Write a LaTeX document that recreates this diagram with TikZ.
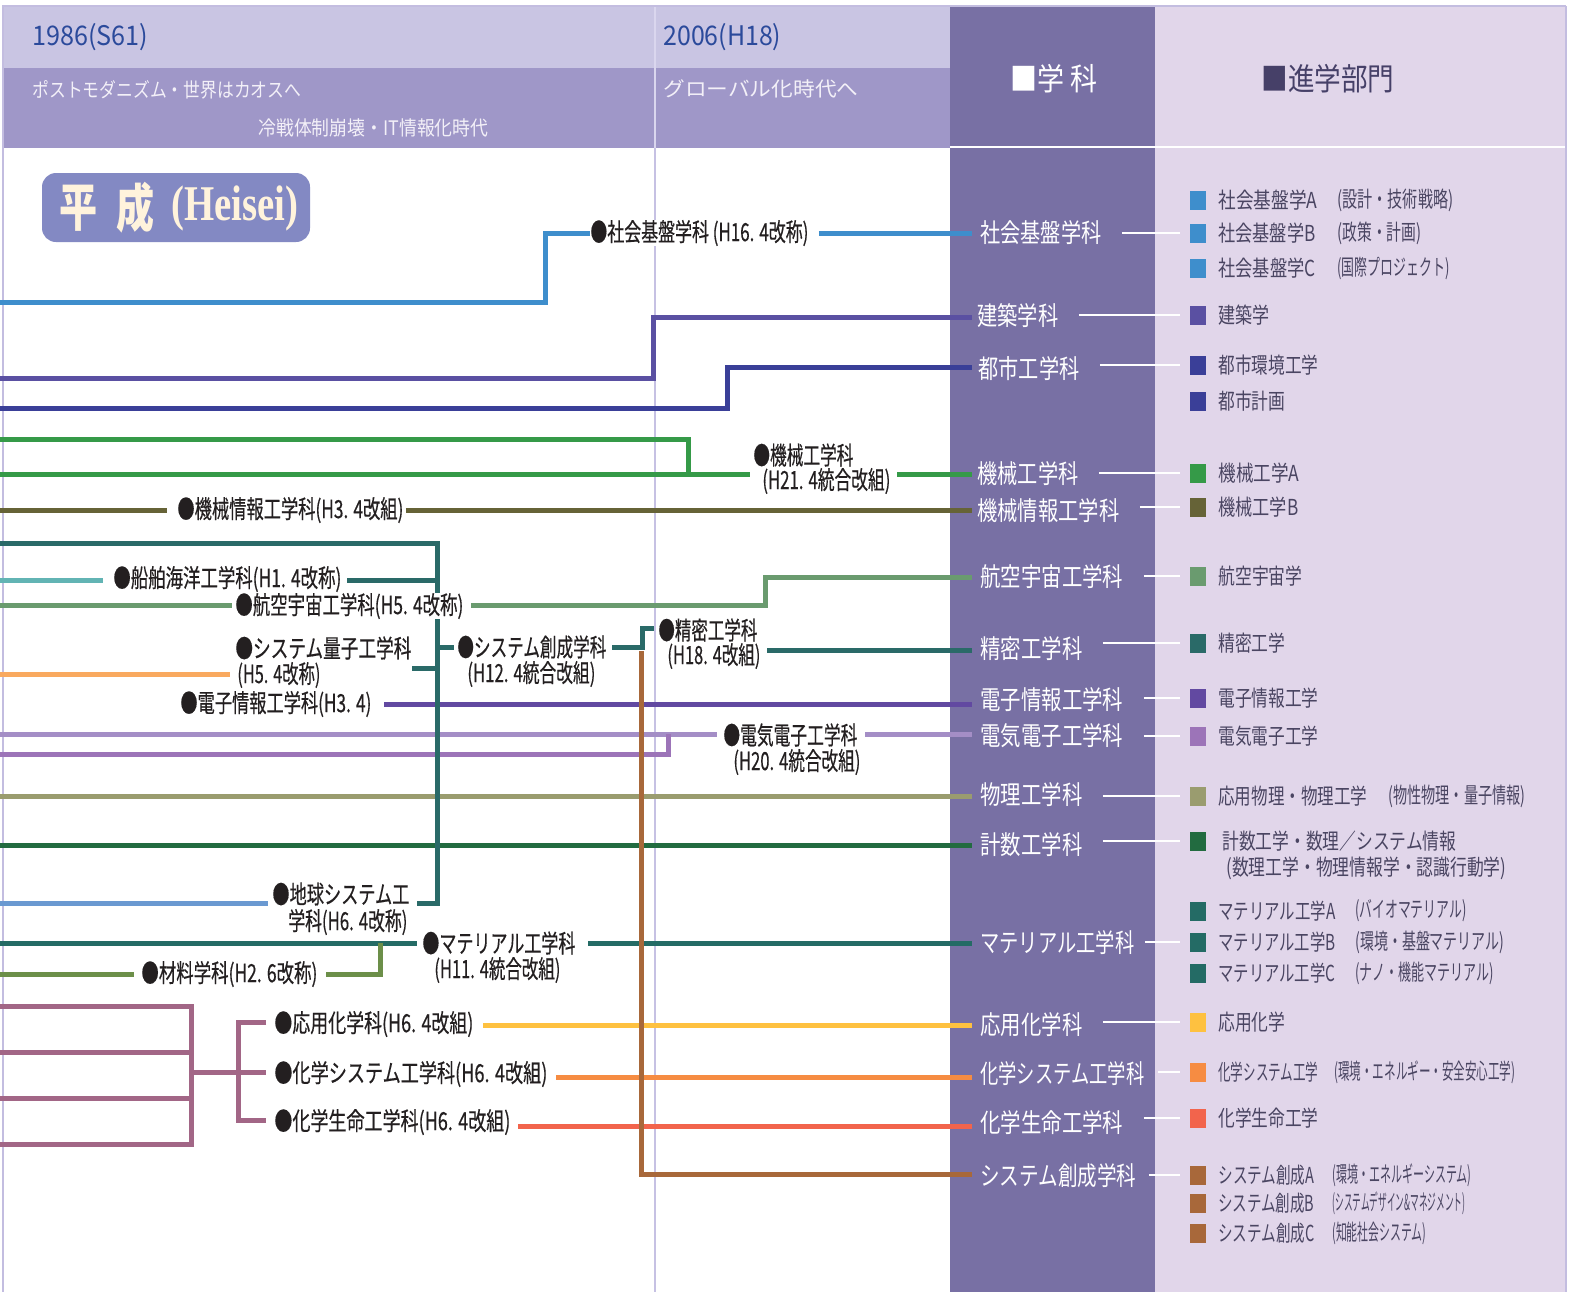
\documentclass[tikz,border=0pt]{standalone}
\usepackage{fontspec}
\setmainfont{Noto Sans CJK JP}
\newfontfamily\jpb[FakeBold=0.5]{Noto Sans CJK JP}
\newfontfamily\serifH{Liberation Serif}
\usepackage{graphicx}
\pgfdeclarelayer{back}
\pgfdeclarelayer{lines}
\pgfsetlayers{back,lines,main}
\newlength\pxu
\setlength\pxu{0.5pt}
\newcommand\fw[2]{\resizebox{#1\pxu}{\height}{#2}}
\definecolor{band1}{HTML}{C9C5E3}
\definecolor{band2}{HTML}{9F97C8}
\definecolor{colG}{HTML}{7870A4}
\definecolor{colS}{HTML}{E1D6EA}
\definecolor{divc}{HTML}{C6C1E3}
\definecolor{divh}{HTML}{DAD6EE}
\definecolor{bordc}{HTML}{C3BDE0}
\definecolor{heiseibg}{HTML}{8389C3}
\definecolor{heiseitxt}{HTML}{FFF3DC}
\definecolor{yearblue}{HTML}{2B4A9B}
\definecolor{eratxt}{HTML}{F3F0F8}
\definecolor{labk}{HTML}{231F20}
\definecolor{itk}{HTML}{4A4562}
\definecolor{hdk}{HTML}{464068}
\definecolor{cShakai}{HTML}{3E8ECC}
\definecolor{cKenchiku}{HTML}{5A50A2}
\definecolor{cToshi}{HTML}{3A3F98}
\definecolor{cKikai}{HTML}{359A48}
\definecolor{cKJ}{HTML}{666337}
\definecolor{cTeal}{HTML}{2A6A68}
\definecolor{cSenpaku}{HTML}{62B4B4}
\definecolor{cKoku}{HTML}{6A9B6F}
\definecolor{cRyoshi}{HTML}{F9A95F}
\definecolor{cDenshi}{HTML}{6249A1}
\definecolor{cDenkiU}{HTML}{A48EC6}
\definecolor{cDenkiL}{HTML}{9C74B8}
\definecolor{cButsuri}{HTML}{9A9C6F}
\definecolor{cKeisu}{HTML}{226B40}
\definecolor{cChikyu}{HTML}{6A99D1}
\definecolor{cMat}{HTML}{246B65}
\definecolor{cZairyo}{HTML}{6C8F49}
\definecolor{cChem}{HTML}{A26686}
\definecolor{cOyo}{HTML}{FEC140}
\definecolor{cKasys}{HTML}{F68C42}
\definecolor{cKasei}{HTML}{F2644C}
\definecolor{cSousei}{HTML}{A8683A}
\begin{document}
\begin{tikzpicture}[x=0.5pt,y=-0.5pt,
  lnc/.style={line width=2.5pt, draw=#1},
  wl/.style={line width=1pt, draw=white},
  ll/.style={anchor=west, inner sep=0pt, text=labk, fill=white, font=\jpb\fontsize{12.5}{15}\selectfont},
  dl/.style={anchor=west, inner sep=0pt, text=white, font=\fontsize{13}{15}\selectfont},
  itm/.style={anchor=west, inner sep=0pt, text=itk, font=\fontsize{11}{13}\selectfont},
  sqr/.style={fill=#1, inner sep=0pt, minimum width=8pt, minimum height=9.5pt},
  hd/.style={anchor=west, inner sep=0pt}
]
\useasboundingbox (0,0) rectangle (1572,1292);
\begin{pgfonlayer}{back}
\fill[white] (0,0) rectangle (1572,1292);
\fill[band1] (3,6) rectangle (950,68);
\fill[band2] (3,68) rectangle (950,148);
\fill[colG] (950,6) rectangle (1155,1292);
\fill[colS] (1155,6) rectangle (1566,1292);
\draw[white, line width=0.75pt] (950,147) -- (1566,147);
\draw[divc, line width=1pt] (655,148) -- (655,1292);
\draw[divh, line width=1pt] (655,6) -- (655,148);
\draw[bordc, line width=1pt] (2.5,6) -- (2.5,1292);
\draw[bordc, line width=0.75pt] (2,6) -- (1566,6);
\draw[bordc, line width=0.75pt] (1566,6) -- (1566,1292);
\end{pgfonlayer}

% header texts
\node[hd, text=yearblue, font=\fontsize{13.5}{15}\selectfont] (yr1) at (32,37) {\fw{116}{1986(S61)}};
\node[hd, text=yearblue, font=\fontsize{13.5}{15}\selectfont] (yr2) at (663,37) {\fw{118}{2006(H18)}};
\node[hd, text=eratxt, font=\fontsize{10}{12}\selectfont] (era1) at (32,90) {\fw{269}{ポストモダニズム・世界はカオスへ}};
\node[hd, text=eratxt, font=\fontsize{10}{12}\selectfont] (era2) at (258,128) {\fw{230}{冷戦体制崩壊・IT情報化時代}};
\node[hd, text=eratxt, font=\fontsize{10}{12}\selectfont] (era3) at (663,89) {\fw{195}{グローバル化時代へ}};
\node[hd, text=white, font=\fontsize{15.5}{17}\selectfont] (hGakka) at (1010,79) {\fw{87}{■学 科}};
\node[hd, text=hdk, font=\fontsize{15.5}{17}\selectfont] (hShingaku) at (1261,79) {\fw{133}{■進学部門}};

% Heisei badge
\node[fill=heiseibg, rounded corners=7pt, minimum width=134pt, minimum height=34.5pt, inner sep=0pt] (heiseiBox) at (176,207.5) {};
\node[hd, text=heiseitxt, font=\fontsize{26}{28}\selectfont\bfseries] (heiseiA) at (59,208) {\fw{38}{平}};
\node[hd, text=heiseitxt, font=\fontsize{26}{28}\selectfont\bfseries] (heiseiB) at (116,208) {\fw{38}{成}};
\node[hd, text=heiseitxt, font=\serifH\fontsize{25}{27}\selectfont\bfseries] (heiseiC) at (171,208) {\fw{127}{(Heisei)}};

% left labels
\node[ll] (shakaiL) at (590,233) {\fw{218}{●社会基盤学科 (H16. 4改称)}};
\node[ll] (kjL) at (177,510) {\fw{226}{●機械情報工学科(H3. 4改組)}};
\node[ll] (senpakuL) at (113,579) {\fw{228}{●船舶海洋工学科(H1. 4改称)}};
\node[ll] (kokuL) at (235,606) {\fw{228}{●航空宇宙工学科(H5. 4改称)}};
\node[ll] (ryoshiL1) at (235,648) {\fw{176}{●システム量子工学科}};
\node[ll] (ryoshiL2) at (237,675) {\fw{83}{(H5. 4改称)}};
\node[ll] (denshiL) at (180,704) {\fw{191}{●電子情報工学科(H3. 4)}};
\node[ll] (souseiL1) at (457,647) {\fw{149}{●システム創成学科}};
\node[ll] (souseiL2) at (467,674) {\fw{128}{(H12. 4統合改組)}};
\node[ll] (seimitsuL1) at (658,630) {\fw{99}{●精密工学科}};
\node[ll] (seimitsuL2) at (667,656) {\fw{93}{(H18. 4改組)}};
\node[ll] (kikaiL1) at (753,455) {\fw{100}{●機械工学科}};
\node[ll] (kikaiL2) at (762,481) {\fw{128}{(H21. 4統合改組)}};
\node[ll] (denkiL1) at (723,735) {\fw{134}{●電気電子工学科}};
\node[ll] (denkiL2) at (733,762) {\fw{127}{(H20. 4統合改組)}};
\node[ll] (chikyuL1) at (272,894) {\fw{137}{●地球システム工}};
\node[ll] (chikyuL2) at (288,922) {\fw{119}{学科(H6. 4改称)}};
\node[ll] (matL1) at (422,943) {\fw{153}{●マテリアル工学科}};
\node[ll] (matL2) at (434,970) {\fw{126}{(H11. 4統合改組)}};
\node[ll] (zairyoL) at (141,974) {\fw{176}{●材料学科(H2. 6改称)}};
\node[ll] (oyoL) at (274,1024) {\fw{199}{●応用化学科(H6. 4改組)}};
\node[ll] (kasysL) at (274,1074) {\fw{273}{●化学システム工学科(H6. 4改組)}};
\node[ll] (kaseiL) at (274,1122) {\fw{236}{●化学生命工学科(H6. 4改組)}};

% department labels
\node[dl] (dShakai) at (980,233) {\fw{121}{社会基盤学科}};
\node[dl] (dKenchiku) at (977,316) {\fw{81}{建築学科}};
\node[dl] (dToshi) at (978,369) {\fw{101}{都市工学科}};
\node[dl] (dKikai) at (977,474) {\fw{101}{機械工学科}};
\node[dl] (dKJ) at (977,511) {\fw{142}{機械情報工学科}};
\node[dl] (dKoku) at (980,577) {\fw{143}{航空宇宙工学科}};
\node[dl] (dSeimitsu) at (980,649) {\fw{102}{精密工学科}};
\node[dl] (dDenshi) at (980,700) {\fw{143}{電子情報工学科}};
\node[dl] (dDenki) at (980,736) {\fw{143}{電気電子工学科}};
\node[dl] (dButsuri) at (980,795) {\fw{102}{物理工学科}};
\node[dl] (dKeisu) at (980,845) {\fw{102}{計数工学科}};
\node[dl] (dMat) at (980,943) {\fw{154}{マテリアル工学科}};
\node[dl] (dOyo) at (980,1025) {\fw{102}{応用化学科}};
\node[dl] (dKasys) at (980,1074) {\fw{164}{化学システム工学科}};
\node[dl] (dKasei) at (980,1123) {\fw{143}{化学生命工学科}};
\node[dl] (dSousei) at (980,1176) {\fw{156}{システム創成学科}};

% course items
\node[sqr=cShakai] (sqSA) at (1198,200) {};
\node[itm] (iSA) at (1218,200) {\fw{99}{社会基盤学A}};
\node[itm] (iSAp) at (1337,200) {\fw{116}{(設計・技術戦略)}};
\node[sqr=cShakai] (sqSB) at (1198,233) {};
\node[itm] (iSB) at (1218,233) {\fw{97}{社会基盤学B}};
\node[itm] (iSBp) at (1337,233) {\fw{84}{(政策・計画)}};
\node[sqr=cShakai] (sqSC) at (1198,268) {};
\node[itm] (iSC) at (1218,268) {\fw{97}{社会基盤学C}};
\node[itm] (iSCp) at (1337,268) {\fw{112}{(国際プロジェクト)}};
\node[sqr=cKenchiku] (sqKen) at (1198,315) {};
\node[itm] (iKen) at (1218,315) {\fw{51}{建築学}};
\node[sqr=cToshi] (sqTA) at (1198,365) {};
\node[itm] (iTA) at (1218,365) {\fw{100}{都市環境工学}};
\node[sqr=cToshi] (sqTB) at (1198,401) {};
\node[itm] (iTB) at (1218,401) {\fw{67}{都市計画}};
\node[sqr=cKikai] (sqKA) at (1198,473) {};
\node[itm] (iKA) at (1218,473) {\fw{81}{機械工学A}};
\node[sqr=cKJ] (sqKB) at (1198,507) {};
\node[itm] (iKB) at (1218,507) {\fw{80}{機械工学B}};
\node[sqr=cKoku] (sqKo) at (1198,576) {};
\node[itm] (iKo) at (1218,576) {\fw{84}{航空宇宙学}};
\node[sqr=cTeal] (sqSe) at (1198,643) {};
\node[itm] (iSe) at (1218,643) {\fw{67}{精密工学}};
\node[sqr=cDenshi] (sqDj) at (1198,698) {};
\node[itm] (iDj) at (1218,698) {\fw{100}{電子情報工学}};
\node[sqr=cDenkiL] (sqDk) at (1198,736) {};
\node[itm] (iDk) at (1218,736) {\fw{100}{電気電子工学}};
\node[sqr=cButsuri] (sqBu) at (1198,796) {};
\node[itm] (iBu) at (1218,796) {\fw{149}{応用物理・物理工学}};
\node[itm] (iBup) at (1388,796) {\fw{137}{(物性物理・量子情報)}};
\node[sqr=cKeisu] (sqKe) at (1198,841) {};
\node[itm] (iKe) at (1222,841) {\fw{234}{計数工学・数理／システム情報}};
\node[itm] (iKep) at (1226,868) {\fw{280}{(数理工学・物理情報学・認識行動学)}};
\node[sqr=cMat] (sqMA) at (1198,911) {};
\node[itm] (iMA) at (1218,911) {\fw{117}{マテリアル工学A}};
\node[itm] (iMAp) at (1355,911) {\fw{111}{(バイオマテリアル)}};
\node[sqr=cMat] (sqMB) at (1198,942) {};
\node[itm] (iMB) at (1218,942) {\fw{117}{マテリアル工学B}};
\node[itm] (iMBp) at (1355,942) {\fw{149}{(環境・基盤マテリアル)}};
\node[sqr=cMat] (sqMC) at (1198,973) {};
\node[itm] (iMC) at (1218,973) {\fw{117}{マテリアル工学C}};
\node[itm] (iMCp) at (1355,973) {\fw{138}{(ナノ・機能マテリアル)}};
\node[sqr=cOyo] (sqOy) at (1198,1022) {};
\node[itm] (iOy) at (1218,1022) {\fw{67}{応用化学}};
\node[sqr=cKasys] (sqKs) at (1198,1072) {};
\node[itm] (iKs) at (1218,1072) {\fw{100}{化学システム工学}};
\node[itm] (iKsp) at (1334,1072) {\fw{181}{(環境・エネルギー・安全安心工学)}};
\node[sqr=cKasei] (sqKl) at (1198,1118) {};
\node[itm] (iKl) at (1218,1118) {\fw{100}{化学生命工学}};
\node[sqr=cSousei] (sqSoA) at (1198,1175) {};
\node[itm] (iSoA) at (1218,1175) {\fw{96}{システム創成A}};
\node[itm] (iSoAp) at (1332,1175) {\fw{139}{(環境・エネルギーシステム)}};
\node[sqr=cSousei] (sqSoB) at (1198,1203) {};
\node[itm] (iSoB) at (1218,1203) {\fw{96}{システム創成B}};
\node[itm] (iSoBp) at (1332,1203) {\fw{133}{(システムデザイン\&マネジメント)}};
\node[sqr=cSousei] (sqSoC) at (1198,1233) {};
\node[itm] (iSoC) at (1218,1233) {\fw{96}{システム創成C}};
\node[itm] (iSoCp) at (1332,1233) {\fw{94}{(知能社会システム)}};

% white connectors
\draw[wl] ([xshift=10pt]dShakai.east |- sqSB.west) -- ([xshift=-5pt]sqSB.west);
\draw[wl] ([xshift=10pt]dKenchiku.east |- sqKen.west) -- ([xshift=-5pt]sqKen.west);
\draw[wl] ([xshift=10pt]dToshi.east |- sqTA.west) -- ([xshift=-5pt]sqTA.west);
\draw[wl] ([xshift=10pt]dKikai.east |- sqKA.west) -- ([xshift=-5pt]sqKA.west);
\draw[wl] ([xshift=10pt]dKJ.east |- sqKB.west) -- ([xshift=-5pt]sqKB.west);
\draw[wl] ([xshift=10pt]dKoku.east |- sqKo.west) -- ([xshift=-5pt]sqKo.west);
\draw[wl] ([xshift=10pt]dSeimitsu.east |- sqSe.west) -- ([xshift=-5pt]sqSe.west);
\draw[wl] ([xshift=10pt]dDenshi.east |- sqDj.west) -- ([xshift=-5pt]sqDj.west);
\draw[wl] ([xshift=10pt]dDenki.east |- sqDk.west) -- ([xshift=-5pt]sqDk.west);
\draw[wl] ([xshift=10pt]dButsuri.east |- sqBu.west) -- ([xshift=-5pt]sqBu.west);
\draw[wl] ([xshift=10pt]dKeisu.east |- sqKe.west) -- ([xshift=-5pt]sqKe.west);
\draw[wl] ([xshift=5pt]dMat.east |- sqMB.west) -- ([xshift=-5pt]sqMB.west);
\draw[wl] ([xshift=10pt]dOyo.east |- sqOy.west) -- ([xshift=-5pt]sqOy.west);
\draw[wl] ([xshift=6.5pt]dKasys.east |- sqKs.west) -- ([xshift=-5pt]sqKs.west);
\draw[wl] ([xshift=10pt]dKasei.east |- sqKl.west) -- ([xshift=-5pt]sqKl.west);
\draw[wl] ([xshift=6pt]dSousei.east |- sqSoA.west) -- ([xshift=-5pt]sqSoA.west);

% coloured lines
\begin{pgfonlayer}{lines}
\draw[lnc=cShakai] (0,302) -| (545,233) -- (shakaiL.west);
\draw[lnc=cShakai] ([xshift=5pt]shakaiL.east) -- (972,233);
\draw[lnc=cKenchiku] (0,378) -| (653,317) -- (972,317);
\draw[lnc=cToshi] (0,408) -| (727,367) -- (972,367);
\draw[lnc=cKikai] (0,439) -| (688,474);
\draw[lnc=cKikai] (0,474) -- (750,474);
\draw[lnc=cKikai] (897,474) -- (972,474);
\draw[lnc=cKJ] (0,510) -- ([xshift=-5pt]kjL.west);
\draw[lnc=cKJ] ([xshift=1pt]kjL.east) -- (972,510);
\draw[lnc=cSenpaku] (0,580) -- (103,580);
\draw[lnc=cKoku] (0,605) -- (232,605);
\draw[lnc=cKoku] (471,605) -- (765,605) -- (765,577) -- (972,577);
\draw[lnc=cRyoshi] (0,674) -- (230,674);
\draw[lnc=cDenshi] (384,704) -- (972,704);
\draw[lnc=cDenkiU] (0,734) -- (717,734);
\draw[lnc=cDenkiU] (865,734) -- (972,734);
\draw[lnc=cDenkiL] (0,754) -- (668,754) -- (668,734);
\draw[lnc=cButsuri] (0,796) -- (972,796);
\draw[lnc=cKeisu] (0,845) -- (972,845);
\draw[lnc=cChikyu] (0,903) -- (268,903);
\draw[lnc=cMat] (0,943) -- (417,943);
\draw[lnc=cMat] (588,943) -- (972,943);
\draw[lnc=cZairyo] (0,974) -- (134,974);
\draw[lnc=cZairyo] (326,974) -- (380,974) -- (380,943);
\draw[lnc=cChem] (0,1006) -- (191,1006) -- (191,1144) -- (0,1144);
\draw[lnc=cChem] (0,1052) -- (191,1052);
\draw[lnc=cChem] (0,1098) -- (191,1098);
\draw[lnc=cChem] (191,1072) -- (266,1072);
\draw[lnc=cChem] (266,1022) -- (238,1022) -- (238,1120) -- (266,1120);
\draw[lnc=cOyo] (483,1025) -- (972,1025);
\draw[lnc=cKasys] (556,1077) -- (972,1077);
\draw[lnc=cKasei] (518,1126) -- (972,1126);
\draw[lnc=cTeal] (767,650) -- (972,650);
\draw[lnc=cTeal] (347,580) -- (437,580);
\draw[lnc=cTeal] (412,668) -- (437,668);
\draw[lnc=cTeal] (437,647) -- (454,647);
\draw[lnc=cTeal] (612,647) -- (642,647) -- (642,628) -- (654,628);
\draw[lnc=cSousei] (641,651) -- (641,1174) -- (972,1174);
\draw[lnc=cTeal] (0,543) -- (437,543) -- (437,903) -- (417,903);
\end{pgfonlayer}
\end{tikzpicture}
\end{document}
